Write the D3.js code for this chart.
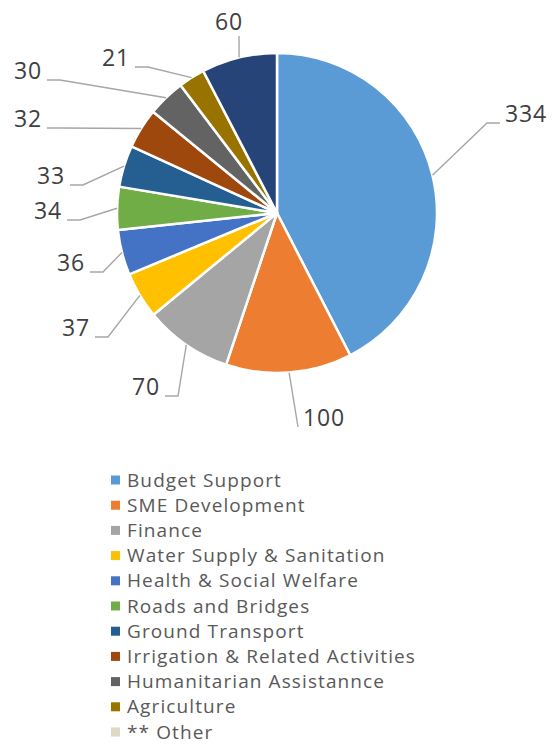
<!DOCTYPE html>
<html>
<head>
<meta charset="utf-8">
<script src="https://cdn.jsdelivr.net/npm/d3@7"></script>
<style>
  body { margin: 0; background: #fff; }
  #pie-container { width: 556px; height: 745px; }
  text { font-family: "Open Sans", sans-serif; }
</style>
</head>
<body>
<div id="pie-container"></div>
<script>
// data
const categories = ["Budget Support", "SME Development", "Finance", "Water Supply & Sanitation",
  "Health & Social Welfare", "Roads and Bridges", "Ground Transport", "Irrigation & Related Activities",
  "Humanitarian Assistannce", "Agriculture", "** Other"];
const values = [334, 100, 70, 37, 36, 34, 33, 32, 30, 21, 60];

// styles
const sliceColors = ["#5B9BD5", "#ED7D31", "#A5A5A5", "#FFC000", "#4472C4", "#70AD47",
  "#255E91", "#9E480E", "#636363", "#997300", "#264478"];
const legendColors = sliceColors.slice(0, 10).concat(["#DDD9C3"]);

// label anchors relative to pie centre: [x of text edge, y of text middle], hand placed like the original
const labelPos = [
  [228, -99], [26, 205], [-117, 174], [-187, 115], [-192, 50], [-215, -2],
  [-212, -37], [-235, -94], [-235, -142], [-147, -155], [-48, -191]
];

let pieMargin = {cx: 277, cy: 213},
  pieRadius = 160,
  pieFWidth = 556,
  pieFHeight = 745;

let pieCanvas = d3.select("#pie-container").append("svg")
  .attr("width", pieFWidth)
  .attr("height", pieFHeight);

let pieG = pieCanvas.append("g")
  .attr("transform", `translate(${pieMargin.cx}, ${pieMargin.cy})`);

let pie = d3.pie().sort(null).value(d => d)(values);

let arc = d3.arc().innerRadius(0).outerRadius(pieRadius);

pieG.selectAll(".slice")
  .data(pie)
  .enter().append("path")
    .classed("slice", true)
    .attr("d", arc)
    .attr("fill", (d, i) => sliceColors[i])
    .attr("stroke", "#fff")
    .attr("stroke-width", 2.5)
    .attr("stroke-linejoin", "round");

// leader lines + labels
pie.forEach((d, i) => {
  let mid = (d.startAngle + d.endAngle) / 2;
  let sx = Math.sin(mid) * pieRadius, sy = -Math.cos(mid) * pieRadius;
  let [lx, ly] = labelPos[i];
  let anchor = "end";
  let pts;
  if (i === 10) {
    anchor = "middle";
    pts = [[sx, sy], [sx, ly + 14]];
  } else if (i === 1) {
    anchor = "start";
    pts = [[sx, sy], [lx - 5, ly + 9]];
  } else if (i === 0) {
    anchor = "start";
    pts = [[sx, sy], [lx - 18, ly + 9], [lx - 5, ly + 9]];
  } else {
    pts = [[sx, sy], [lx + 18, ly + 9], [lx + 5, ly + 9]];
  }
  pieG.append("path")
    .attr("d", d3.line()(pts))
    .attr("fill", "none")
    .attr("stroke", "#A6A6A6")
    .attr("stroke-width", 1.4);

  pieG.append("text")
    .attr("x", lx)
    .attr("y", ly)
    .attr("text-anchor", anchor)
    .attr("dy", "0.35em")
    .attr("font-size", 23)
    .attr("letter-spacing", 0.8)
    .attr("fill", "#404040")
    .text(values[i]);
});

// legend
let legend = pieCanvas.append("g")
  .attr("transform", "translate(111, 480)");

let rows = legend.selectAll(".legend-row")
  .data(categories)
  .enter().append("g")
    .classed("legend-row", true)
    .attr("transform", (d, i) => `translate(0, ${i * 25.2})`);

rows.append("rect")
  .attr("x", 0)
  .attr("y", -4.5)
  .attr("width", 9)
  .attr("height", 9)
  .attr("fill", (d, i) => legendColors[i]);

rows.append("text")
  .attr("x", 16)
  .attr("dy", "0.35em")
  .attr("font-size", 19)
  .attr("letter-spacing", 1.1)
  .attr("fill", "#595959")
  .text(d => d);
</script>
</body>
</html>
